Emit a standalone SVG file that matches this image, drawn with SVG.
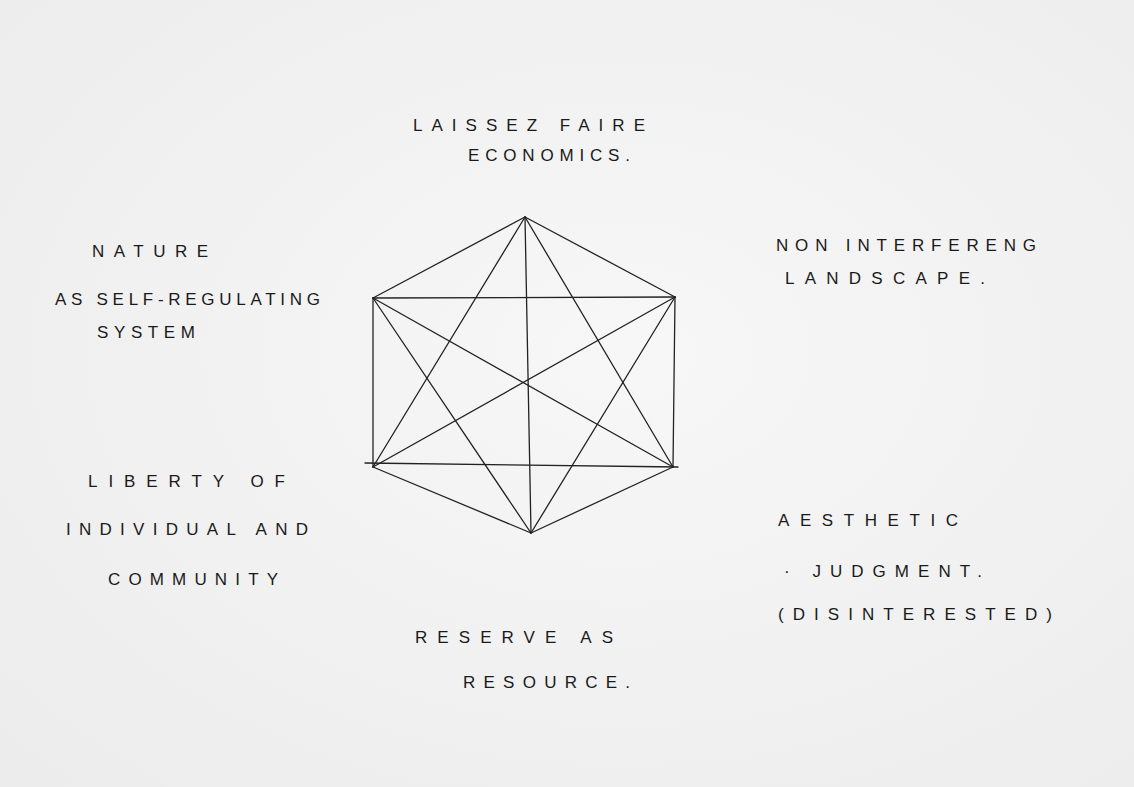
<svg xmlns="http://www.w3.org/2000/svg" width="1134" height="787" viewBox="0 0 1134 787">
<defs>
<style>
.t{font-family:"Liberation Sans",Arial,sans-serif;font-size:17px;fill:#1a1a1a;}
.e{stroke:#222;stroke-width:1.3;fill:none;stroke-linecap:round;}
</style>
<radialGradient id="bg" cx="0.55" cy="0.45" r="0.75">
<stop offset="0" stop-color="#f7f7f7"/>
<stop offset="1" stop-color="#ececec"/>
</radialGradient>
</defs>
<rect width="1134" height="787" fill="url(#bg)"/>
<g id="connectors">
<line class="e" x1="525" y1="217" x2="373" y2="298"/>
<line class="e" x1="525" y1="217" x2="675" y2="297"/>
<line class="e" x1="525" y1="217" x2="373" y2="467"/>
<line class="e" x1="525" y1="217" x2="673" y2="467"/>
<line class="e" x1="525" y1="217" x2="531" y2="533"/>
<line class="e" x1="373" y1="298" x2="675" y2="297"/>
<line class="e" x1="373" y1="298" x2="373" y2="467"/>
<line class="e" x1="373" y1="298" x2="673" y2="467"/>
<line class="e" x1="373" y1="298" x2="531" y2="533"/>
<line class="e" x1="675" y1="297" x2="373" y2="467"/>
<line class="e" x1="675" y1="297" x2="673" y2="467"/>
<line class="e" x1="675" y1="297" x2="531" y2="533"/>
<line class="e" x1="365" y1="463" x2="678" y2="467"/>
<line class="e" x1="373" y1="467" x2="531" y2="533"/>
<line class="e" x1="673" y1="467" x2="531" y2="533"/>
</g>
<g id="n-laissez">
<text class="t" x="413" y="131" textLength="232" lengthAdjust="spacing">LAISSEZ FAIRE</text>
<text class="t" x="468" y="161" textLength="162" lengthAdjust="spacing">ECONOMICS.</text>
</g>
<g id="n-nature">
<text class="t" x="92" y="257" textLength="116" lengthAdjust="spacing">NATURE</text>
<text class="t" x="55" y="305" textLength="265" lengthAdjust="spacing">AS SELF-REGULATING</text>
<text class="t" x="97" y="338" textLength="98" lengthAdjust="spacing">SYSTEM</text>
</g>
<g id="n-noninterfering">
<text class="t" x="776" y="251" textLength="260" lengthAdjust="spacing">NON INTERFERENG</text>
<text class="t" x="785" y="284" textLength="200" lengthAdjust="spacing">LANDSCAPE.</text>
</g>
<g id="n-liberty">
<text class="t" x="88" y="487" textLength="197" lengthAdjust="spacing">LIBERTY OF</text>
<text class="t" x="66" y="535" textLength="242" lengthAdjust="spacing">INDIVIDUAL AND</text>
<text class="t" x="108" y="585" textLength="170" lengthAdjust="spacing">COMMUNITY</text>
</g>
<g id="n-aesthetic">
<text class="t" x="778" y="526" textLength="180" lengthAdjust="spacing">AESTHETIC</text>
<text class="t" x="784" y="577" textLength="198" lengthAdjust="spacing">· JUDGMENT.</text>
<text class="t" x="778" y="620" textLength="274" lengthAdjust="spacing">(DISINTERESTED)</text>
</g>
<g id="n-reserve">
<text class="t" x="415" y="643" textLength="198" lengthAdjust="spacing">RESERVE AS</text>
<text class="t" x="463" y="688" textLength="167" lengthAdjust="spacing">RESOURCE.</text>
</g>
</svg>
